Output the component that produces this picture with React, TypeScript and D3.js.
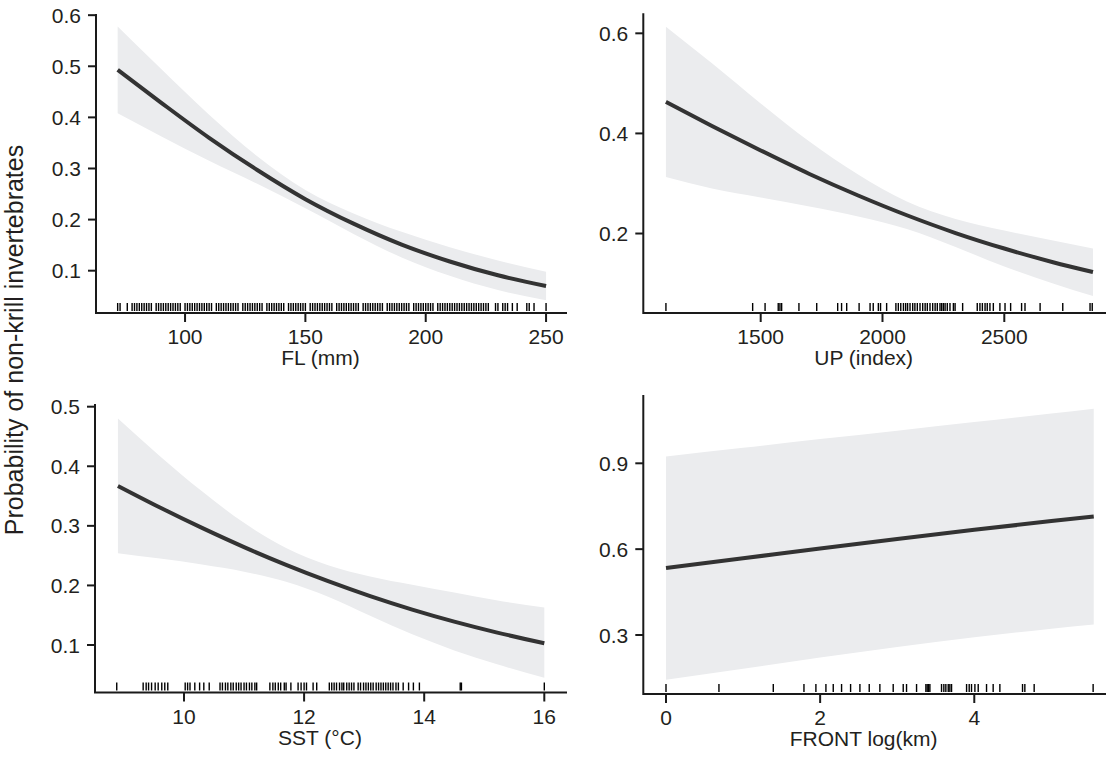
import React from "react";
import * as d3 from "d3";

// ---------- DATA ----------
const flX = [72, 90, 110, 130, 150, 170, 190, 210, 230, 250];
const flFit = [0.493, 0.429, 0.36, 0.297, 0.24, 0.192, 0.151, 0.118, 0.091, 0.07];
const flUpper = [0.578, 0.495, 0.405, 0.324, 0.258, 0.212, 0.176, 0.146, 0.12, 0.098];
const flLower = [0.408, 0.363, 0.315, 0.27, 0.222, 0.172, 0.126, 0.09, 0.062, 0.042];
const flRug = [72, 73, 76, 78, 79, 80, 81, 82, 83, 84, 85, 86, 88, 89, 90, 91, 92, 93, 94, 95, 96, 97, 98, 100, 101, 102, 103, 104, 105, 106, 107, 108, 109, 110, 111, 113, 114, 115, 116, 117, 118, 119, 120, 121, 122, 124, 125, 126, 127, 128, 129, 130, 131, 132, 134, 135, 136, 137, 138, 139, 140, 141, 143, 144, 145, 146, 147, 148, 149, 150, 152, 153, 154, 155, 156, 157, 158, 159, 160, 161, 163, 164, 165, 166, 167, 168, 169, 170, 171, 172, 174, 175, 176, 177, 178, 179, 180, 181, 182, 184, 185, 186, 187, 188, 189, 190, 191, 192, 193, 195, 196, 197, 198, 199, 200, 201, 202, 203, 205, 206, 207, 208, 209, 210, 211, 212, 213, 214, 215, 216, 217, 218, 219, 220, 221, 222, 223, 224, 225, 226, 229, 230, 232, 233, 234, 236, 238, 242, 243, 245, 250];
const flXTicks = [100, 150, 200, 250];
const flYTicks = [0.1, 0.2, 0.3, 0.4, 0.5, 0.6];

const upX = [1111, 1300, 1500, 1700, 1900, 2100, 2300, 2500, 2700, 2864];
const upFit = [0.463, 0.415, 0.366, 0.319, 0.276, 0.2365, 0.201, 0.17, 0.1427, 0.123];
const upUpper = [0.613, 0.54, 0.46, 0.384, 0.318, 0.264, 0.229, 0.206, 0.186, 0.17];
const upLower = [0.313, 0.29, 0.272, 0.254, 0.234, 0.209, 0.173, 0.134, 0.1, 0.075];
const upRug = [1111, 1467, 1518, 1572, 1579, 1586, 1657, 1730, 1816, 1832, 1853, 1904, 1949, 1962, 1983, 1992, 2017, 2055, 2065, 2075, 2086, 2095, 2103, 2113, 2124, 2133, 2143, 2154, 2165, 2175, 2184, 2195, 2206, 2216, 2225, 2236, 2243, 2250, 2257, 2266, 2277, 2291, 2298, 2329, 2389, 2400, 2410, 2421, 2430, 2441, 2455, 2482, 2503, 2526, 2571, 2585, 2647, 2740, 2852, 2861];
const upXTicks = [1500, 2000, 2500];
const upYTicks = [0.2, 0.4, 0.6];

const sstX = [8.9, 9.6, 10.3, 11.0, 11.7, 12.4, 13.1, 13.8, 14.5, 15.2, 16.0];
const sstFit = [0.367, 0.3308, 0.2965, 0.2643, 0.2345, 0.2071, 0.1821, 0.1595, 0.1393, 0.1213, 0.103];
const sstUpper = [0.48, 0.417, 0.358, 0.305, 0.263, 0.234, 0.215, 0.201, 0.188, 0.175, 0.163];
const sstLower = [0.254, 0.245, 0.235, 0.223, 0.206, 0.181, 0.149, 0.118, 0.091, 0.068, 0.045];
const sstRug = [8.88, 9.32, 9.37, 9.41, 9.46, 9.52, 9.57, 9.63, 9.68, 9.73, 10.02, 10.06, 10.1, 10.18, 10.26, 10.33, 10.42, 10.6, 10.64, 10.69, 10.73, 10.78, 10.82, 10.87, 10.91, 10.95, 11.0, 11.04, 11.09, 11.13, 11.18, 11.21, 11.43, 11.48, 11.52, 11.57, 11.61, 11.67, 11.7, 11.78, 11.9, 11.95, 12.0, 12.04, 12.15, 12.21, 12.42, 12.46, 12.5, 12.54, 12.59, 12.63, 12.66, 12.71, 12.75, 12.79, 12.83, 12.9, 12.94, 12.99, 13.03, 13.07, 13.11, 13.15, 13.2, 13.24, 13.28, 13.32, 13.36, 13.4, 13.44, 13.48, 13.53, 13.57, 13.65, 13.74, 13.82, 13.92, 14.6, 14.62, 16.0];
const sstXTicks = [10, 12, 14, 16];
const sstYTicks = [0.1, 0.2, 0.3, 0.4, 0.5];

const frX = [0, 1, 2, 3, 4, 5, 5.55];
const frFit = [0.534, 0.568, 0.6025, 0.6355, 0.6675, 0.698, 0.714];
const frUpper = [0.924, 0.954, 0.985, 1.014, 1.044, 1.074, 1.091];
const frLower = [0.144, 0.182, 0.221, 0.258, 0.292, 0.322, 0.337];
const frRug = [0.0, 0.687, 1.392, 1.79, 1.945, 2.075, 2.17, 2.278, 2.395, 2.516, 2.637, 2.775, 2.948, 3.078, 3.121, 3.251, 3.372, 3.389, 3.407, 3.424, 3.575, 3.605, 3.631, 3.662, 3.683, 3.705, 3.9, 3.934, 3.964, 4.008, 4.051, 4.159, 4.245, 4.332, 4.626, 4.656, 4.777, 5.542];
const frXTicks = [0, 2, 4];
const frYTicks = [0.3, 0.6, 0.9];

const xTitles = ["FL (mm)", "UP (index)", "SST (°C)", "FRONT log(km)"];
const yTitle = "Probability of non-krill invertebrates";

// ---------- LAYOUT ----------
const FONT = "'Liberation Sans', Arial, Helvetica, sans-serif";
const TXT = "#231f20";
const BAND = "#ebecee";
const LINE = "#333333";
const TICK_FS = 21;
const TITLE_FS = 21;

type Panel = {
  xs: number[]; fit: number[]; up: number[]; lo: number[]; rug: number[];
  xt: number[]; yt: number[]; xFmt: (v: number) => string; yFmt: (v: number) => string;
  xd: [number, number]; yd: [number, number];
  left: number; right: number; top: number; bottom: number; title: string;
};

const panels: Panel[] = [
  { xs: flX, fit: flFit, up: flUpper, lo: flLower, rug: flRug, xt: flXTicks, yt: flYTicks,
    xFmt: d3.format("d"), yFmt: d3.format(".1f"), xd: [63.0, 258.7], yd: [0.0172, 0.6023],
    left: 96, right: 567, top: 14, bottom: 313, title: xTitles[0] },
  { xs: upX, fit: upFit, up: upUpper, lo: upLower, rug: upRug, xt: upXTicks, yt: upYTicks,
    xFmt: d3.format("d"), yFmt: d3.format(".1f"), xd: [1018.1, 2917.5], yd: [0.0412, 0.64],
    left: 643.3, right: 1106, top: 13.3, bottom: 313, title: xTitles[1] },
  { xs: sstX, fit: sstFit, up: sstUpper, lo: sstLower, rug: sstRug, xt: sstXTicks, yt: sstYTicks,
    xFmt: d3.format("d"), yFmt: d3.format(".1f"), xd: [8.518, 16.378], yd: [0.0203, 0.5045],
    left: 95, right: 567, top: 404, bottom: 692.5, title: xTitles[2] },
  { xs: frX, fit: frFit, up: frUpper, lo: frLower, rug: frRug, xt: frXTicks, yt: frYTicks,
    xFmt: d3.format("d"), yFmt: d3.format(".1f"), xd: [-0.2945, 5.709], yd: [0.0938, 1.1387],
    left: 643.3, right: 1106, top: 395, bottom: 694, title: xTitles[3] },
];

function PanelView({ p }: { p: Panel }) {
  const x = d3.scaleLinear().domain(p.xd).range([p.left, p.right]);
  const y = d3.scaleLinear().domain(p.yd).range([p.bottom, p.top]);
  const idx = p.xs.map((_, i) => i);
  const area = d3.area<number>()
    .x((i) => x(p.xs[i]))
    .y0((i) => y(p.lo[i]))
    .y1((i) => y(p.up[i]))
    .curve(d3.curveMonotoneX);
  const line = d3.line<number>()
    .x((i) => x(p.xs[i]))
    .y((i) => y(p.fit[i]))
    .curve(d3.curveMonotoneX);
  return (
    <g>
      <path d={area(idx) || ""} fill={BAND} stroke="none" />
      <path d={line(idx) || ""} fill="none" stroke={LINE} strokeWidth={4} />
      {p.rug.map((r, i) => (
        <line key={"r" + i} x1={x(r)} x2={x(r)} y1={p.bottom - 10} y2={p.bottom - 2}
          stroke="#000" strokeWidth={1.4} />
      ))}
      <path d={`M${p.left},${p.top}V${p.bottom}H${p.right}`} fill="none" stroke="#1a1a1a" strokeWidth={2} />
      {p.yt.map((t) => (
        <g key={"y" + t}>
          <line x1={p.left - 8} x2={p.left} y1={y(t)} y2={y(t)} stroke="#1a1a1a" strokeWidth={2} />
          <text x={p.left - 15} y={y(t)} dy="0.36em" textAnchor="end" fontSize={TICK_FS}
            fontFamily={FONT} fill={TXT}>{p.yFmt(t)}</text>
        </g>
      ))}
      {p.xt.map((t) => (
        <g key={"x" + t}>
          <line x1={x(t)} x2={x(t)} y1={p.bottom} y2={p.bottom + 9} stroke="#1a1a1a" strokeWidth={2} />
          <text x={x(t)} y={p.bottom + 31} textAnchor="middle" fontSize={TICK_FS}
            fontFamily={FONT} fill={TXT}>{p.xFmt(t)}</text>
        </g>
      ))}
      <text x={(p.left + p.right) / 2 - 11} y={p.bottom + 45} textAnchor="middle" fontSize={TITLE_FS}
        fontFamily={FONT} fill={TXT} dy="0.35em">{p.title}</text>
    </g>
  );
}

export default function App() {
  return (
    <svg width={1107} height={767} style={{ position: "absolute", left: 0, top: 0, background: "#fff" }}>
      <rect width={1107} height={767} fill="#fff" />
      {panels.map((p, i) => <PanelView key={i} p={p} />)}
      <text transform="translate(14,340) rotate(-90)" textAnchor="middle" dy="0.35em" fontSize={25}
        fontFamily={FONT} fill={TXT}>{yTitle}</text>
    </svg>
  );
}
